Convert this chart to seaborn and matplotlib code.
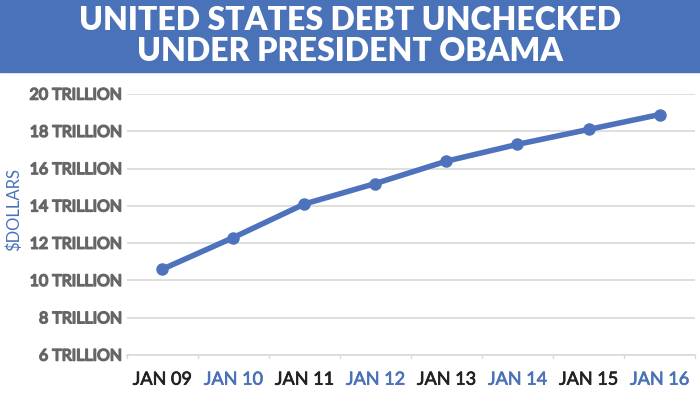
import matplotlib
matplotlib.use("Agg")
import matplotlib.pyplot as plt
import matplotlib.patheffects as pe
import seaborn as sns
import pandas as pd

# data (trillions of dollars)
meses = ["JAN 09", "JAN 10", "JAN 11", "JAN 12", "JAN 13", "JAN 14", "JAN 15", "JAN 16"]
divida = [10.6, 12.3, 14.1, 15.2, 16.4, 17.3, 18.1, 18.9]
ticks_y = [6, 8, 10, 12, 14, 16, 18, 20]
labels_y = [f"{v} TRILLION" for v in ticks_y]

azul = "#4a72b8"
cinza = "#666666"
df = pd.DataFrame({"mes": meses, "divida": divida})

sns.set_style("white")
plt.rcParams["font.family"] = ["Lato", "DejaVu Sans"]

fig = plt.figure(figsize=(7, 3.96), dpi=100)

# faixa azul do titulo
fig.patches.append(plt.Rectangle((0, 0.818), 1, 0.182, transform=fig.transFigure,
                                 color=azul, zorder=0))
fig.text(0.5, 0.91, "UNITED STATES DEBT UNCHECKED\nUNDER PRESIDENT OBAMA",
         ha="center", va="center", color="white", fontsize=23, fontweight=800,
         linespacing=1.08)

ax = fig.add_axes([0.181, 0.1035, 0.812, 0.659])
sns.lineplot(x="mes", y="divida", data=df, ax=ax, color="#4f72bd", linewidth=4,
             marker="o", markersize=9, markeredgewidth=0, sort=False)

ax.set_xlim(-0.5, len(meses) - 0.5)
ax.set_ylim(6, 20)
ax.set_yticks(ticks_y)
ax.set_yticklabels(labels_y)
ax.yaxis.grid(True, color="#d9d9d9", linewidth=1.2)
ax.set_axisbelow(True)

ax.set_xticks(range(len(meses)))
ax.set_xticklabels(meses)
ax.tick_params(axis="x", length=0, pad=12)
ax.tick_params(axis="y", length=0, pad=3)

# pequenos tracos entre as categorias
for x in [i - 0.5 for i in range(len(meses) + 1)]:
    ax.plot([x, x], [0, -0.012], transform=ax.get_xaxis_transform(),
            color="#d9d9d9", linewidth=1, clip_on=False)

for s in ["top", "right", "left"]:
    ax.spines[s].set_visible(False)
ax.spines["bottom"].set_color("#d9d9d9")
ax.spines["bottom"].set_linewidth(1.2)

ax.set_xlabel("")
ax.set_ylabel("")
fig.text(14 / 700, 0.47, "$DOLLARS", rotation=90, ha="center", va="center",
         fontsize=12, color=azul)

# rotulos mais grossos, como no original
for t in ax.get_yticklabels():
    t.set_fontsize(11.5)
    t.set_color(cinza)
    t.set_path_effects([pe.withStroke(linewidth=1.1, foreground=cinza)])
for i, t in enumerate(ax.get_xticklabels()):
    cor = "#222222" if i % 2 == 0 else azul
    t.set_fontsize(13)
    t.set_color(cor)
    t.set_path_effects([pe.withStroke(linewidth=0.5, foreground=cor)])

fig.savefig("out.png", dpi=100)
